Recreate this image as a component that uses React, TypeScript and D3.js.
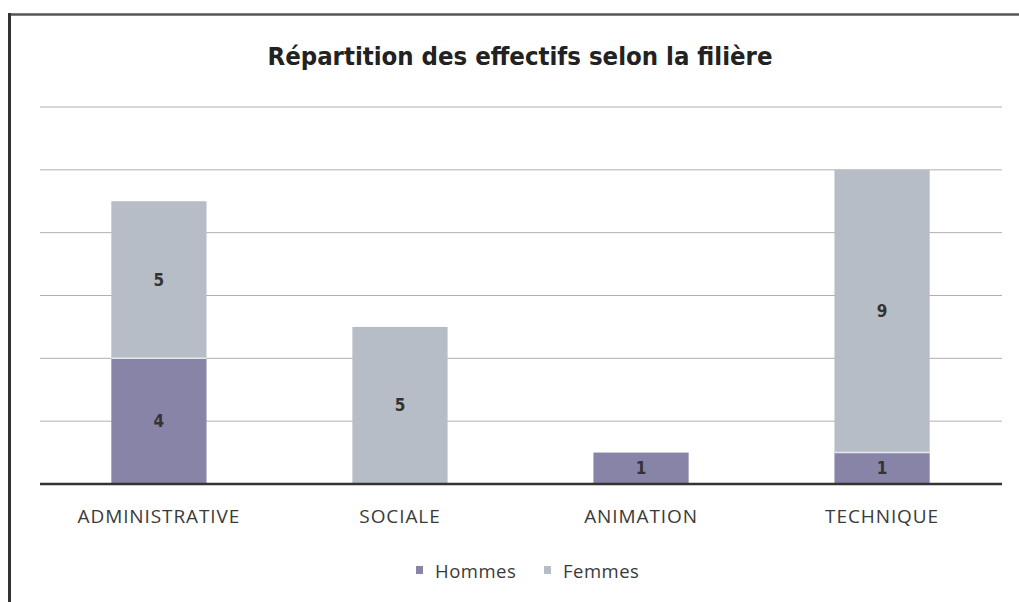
import React from "react";
import * as d3 from "d3";

const categories = ["ADMINISTRATIVE", "SOCIALE", "ANIMATION", "TECHNIQUE"];
const hommes = [4, 0, 1, 1];
const femmes = [5, 5, 0, 9];
const seriesNames = ["Hommes", "Femmes"];
const yTicks = [0, 2, 4, 6, 8, 10, 12];
const title = "Répartition des effectifs selon la filière";

const W = 1019;
const H = 602;
const colors = ["#8884a8", "#b7bdc6"];
const FONT = "'DejaVu Sans Condensed', 'Open Sans', sans-serif";
const LFONT = "'Open Sans', 'DejaVu Sans', sans-serif";

export default function App() {
  const x = d3.scaleBand<string>().domain(categories).range([39, 1002]).paddingInner(0.605).paddingOuter(0.3);
  const y = d3.scaleLinear().domain([0, 12]).range([484, 107]);
  const rows = categories.map((c, i) => ({ cat: c, Hommes: hommes[i], Femmes: femmes[i] }));
  const stack = d3.stack<any>().keys(seriesNames)(rows);

  return (
    <svg width={W} height={H} style={{ position: "absolute", left: 0, top: 0, background: "#fff" }}>
      <rect x={0} y={0} width={W} height={H} fill="#fff" />
      {/* frame */}
      <line x1={9} y1={14.5} x2={W} y2={14.5} stroke="#555" strokeWidth={2.5} />
      <line x1={9.5} y1={13} x2={9.5} y2={H} stroke="#333" strokeWidth={3} />
      <text x={520} y={65} textAnchor="middle" fontFamily={FONT} fontSize={25} fontWeight="bold" fill="#222" textLength={505} lengthAdjust="spacingAndGlyphs">{title}</text>
      {/* gridlines */}
      {yTicks.filter((t) => t > 0).map((t) => (
        <line key={t} x1={40} x2={1002} y1={y(t)} y2={y(t)} stroke="#b0b0b0" strokeWidth={1} />
      ))}
      {/* bars */}
      {stack.map((s, si) =>
        s.map((d, i) => {
          const v = d[1] - d[0];
          if (v <= 0) return null;
          const bx = x(categories[i])!;
          const top = y(d[1]);
          const bot = y(d[0]);
          return (
            <g key={si + "-" + i}>
              <rect x={bx} y={top} width={x.bandwidth()} height={bot - top} fill={colors[si]} />
              <text x={bx + x.bandwidth() / 2} y={(top + bot) / 2 + 6} textAnchor="middle" fontFamily={FONT} fontSize={17} fontWeight="bold" fill="#333">{v}</text>
            </g>
          );
        })
      )}
      {/* separators between stacked segments */}
      {stack[0].map((d, i) => (d[1] > 0 && femmes[i] > 0 ? (
        <line key={"sep" + i} x1={x(categories[i])!} x2={x(categories[i])! + x.bandwidth()} y1={y(d[1])} y2={y(d[1])} stroke="#e6e6ea" strokeWidth={1.5} />
      ) : null))}
      {/* axis */}
      <line x1={40} x2={1002} y1={y(0)} y2={y(0)} stroke="#333" strokeWidth={2.5} />
      {categories.map((c) => (
        <text key={c} x={x(c)! + x.bandwidth() / 2} y={523} textAnchor="middle" fontFamily={LFONT} fontSize={19} letterSpacing={0.9} fill="#3a3a3a">{c}</text>
      ))}
      {/* legend */}
      {seriesNames.map((n, i) => (
        <g key={n} transform={`translate(${[416, 544][i]},0)`}>
          <rect x={0} y={566} width={7} height={8} fill={colors[i]} />
          <text x={19} y={578} fontFamily={LFONT} fontSize={18.5} letterSpacing={0.5} fill="#3a3a3a">{n}</text>
        </g>
      ))}
    </svg>
  );
}
